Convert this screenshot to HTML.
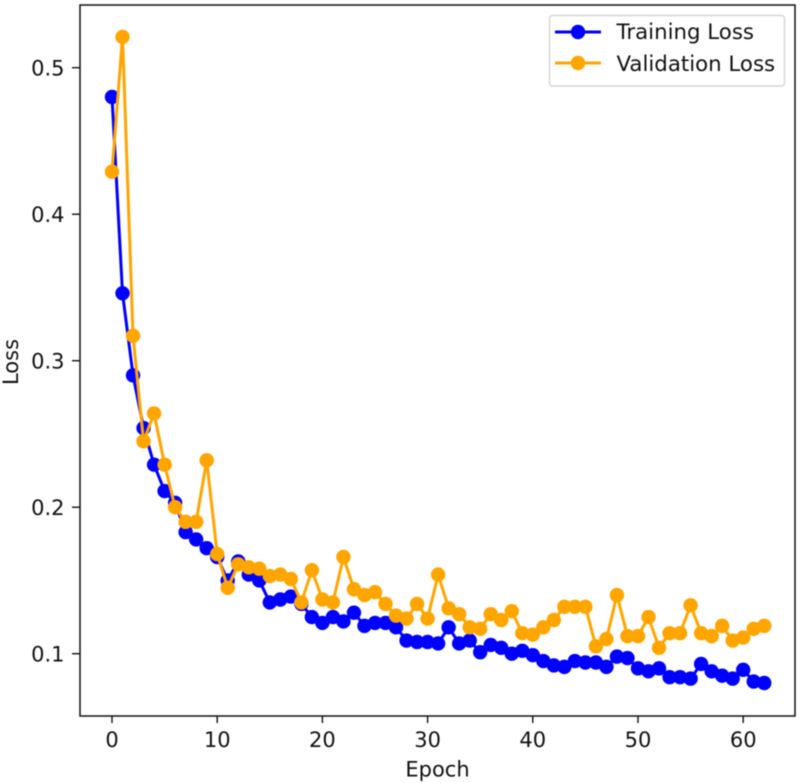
<!DOCTYPE html>
<html>
<head>
<meta charset="utf-8">
<title>Training and Validation Loss</title>
<style>
html,body{margin:0;padding:0;background:#fff;width:800px;height:783px;overflow:hidden}
svg{display:block;filter:blur(0.45px)}
text{font-family:"DejaVu Sans","Liberation Sans",sans-serif;fill:#111}
</style>
</head>
<body>
<svg id="chart" width="800" height="783" viewBox="0 0 800 783" xmlns="http://www.w3.org/2000/svg">
  <rect x="80" y="5" width="715" height="711" fill="#fff"/>
  <g id="ticks"></g>
  <g id="series"></g>
  <rect x="80" y="5" width="715" height="711" fill="none" stroke="#111" stroke-width="1.5"/>
  <text x="437.5" y="776.5" font-size="21" text-anchor="middle">Epoch</text>
  <text transform="translate(18,362) rotate(-90)" font-size="21" text-anchor="middle">Loss</text>
  <g>
    <rect x="549.5" y="15.5" width="235" height="70.5" rx="3" fill="#fff" fill-opacity="0.8" stroke="#d5d5d5" stroke-width="1.4"/>
    <g>
      <line x1="555" y1="32" x2="601" y2="32" stroke="#0000ff" stroke-width="3"/>
      <circle cx="578" cy="32" r="7.2" fill="#0000ff"/>
      <text x="616.5" y="39" font-size="21.3">Training Loss</text>
    </g>
    <g>
      <line x1="555" y1="63" x2="601" y2="63" stroke="#ffa500" stroke-width="3"/>
      <circle cx="578" cy="63" r="7.2" fill="#ffa500"/>
      <text x="616.5" y="71" font-size="21.3">Validation Loss</text>
    </g>
  </g>
</svg>
<script>
const epochTicks = [0, 10, 20, 30, 40, 50, 60];
const lossTicks = [0.1, 0.2, 0.3, 0.4, 0.5];
const trainingLoss = [0.48,0.346,0.29,0.254,0.229,0.211,0.203,0.183,0.178,0.172,0.166,0.15,0.163,0.154,0.15,0.135,0.137,0.139,0.134,0.125,0.121,0.125,0.122,0.128,0.119,0.121,0.121,0.118,0.109,0.108,0.108,0.107,0.118,0.107,0.109,0.101,0.106,0.104,0.1,0.102,0.099,0.095,0.092,0.091,0.095,0.094,0.094,0.091,0.098,0.097,0.09,0.088,0.09,0.084,0.084,0.083,0.093,0.088,0.085,0.083,0.089,0.081,0.08];
const validationLoss = [0.429,0.521,0.317,0.245,0.264,0.229,0.2,0.19,0.19,0.232,0.168,0.145,0.161,0.159,0.158,0.153,0.154,0.151,0.135,0.157,0.137,0.135,0.166,0.144,0.14,0.142,0.134,0.126,0.124,0.134,0.124,0.154,0.131,0.127,0.118,0.117,0.127,0.123,0.129,0.114,0.113,0.118,0.123,0.132,0.132,0.132,0.105,0.11,0.14,0.112,0.112,0.125,0.104,0.114,0.114,0.133,0.114,0.112,0.119,0.109,0.111,0.117,0.119];

const NS = 'http://www.w3.org/2000/svg';
function xScale(e) { return 112 + e * 10.52; }
function yScale(v) { return 653.7 - (v - 0.1) * 1465; }
function make(tag, attrs, parent) {
  const el = document.createElementNS(NS, tag);
  for (const k in attrs) el.setAttribute(k, attrs[k]);
  parent.appendChild(el);
  return el;
}
const tickLayer = document.getElementById('ticks');
epochTicks.forEach(function (t) {
  const tick = make('line', { x1: xScale(t), x2: xScale(t), y1: 716, y2: 723, stroke: '#111', 'stroke-width': 1.4 }, tickLayer);
  
  
  const label = make('text', { x: xScale(t), y: 747, 'font-size': 21, 'text-anchor': 'middle' }, tickLayer);
  
  
  label.textContent = String(t);
});
lossTicks.forEach(function (t) {
  const tick = make('line', { x1: 72, x2: 80, y1: yScale(t), y2: yScale(t), stroke: '#111', 'stroke-width': 1.4 }, tickLayer);
  
  
  const label = make('text', { x: 64.5, y: yScale(t) + 8, 'font-size': 21, 'text-anchor': 'end' }, tickLayer);
  
  
  label.textContent = t.toFixed(1);
});
const seriesLayer = document.getElementById('series');
function drawSeries(values, color, name) {
  const group = make('g', {}, seriesLayer);
  
  
  const line = make('polyline', {
    points: values.map(function (v, i) { return xScale(i) + ',' + yScale(v); }).join(' '),
    fill: 'none', stroke: color, 'stroke-width': 3, 'stroke-linejoin': 'round'
  }, group);
  
  
  values.forEach(function (v, i) {
    const pt = make('circle', { cx: xScale(i), cy: yScale(v), r: 7.2, fill: color }, group);
    
    
  });
}
drawSeries(trainingLoss, '#0000ff', 'training-loss');
drawSeries(validationLoss, '#ffa500', 'validation-loss');
</script>
</body>
</html>
